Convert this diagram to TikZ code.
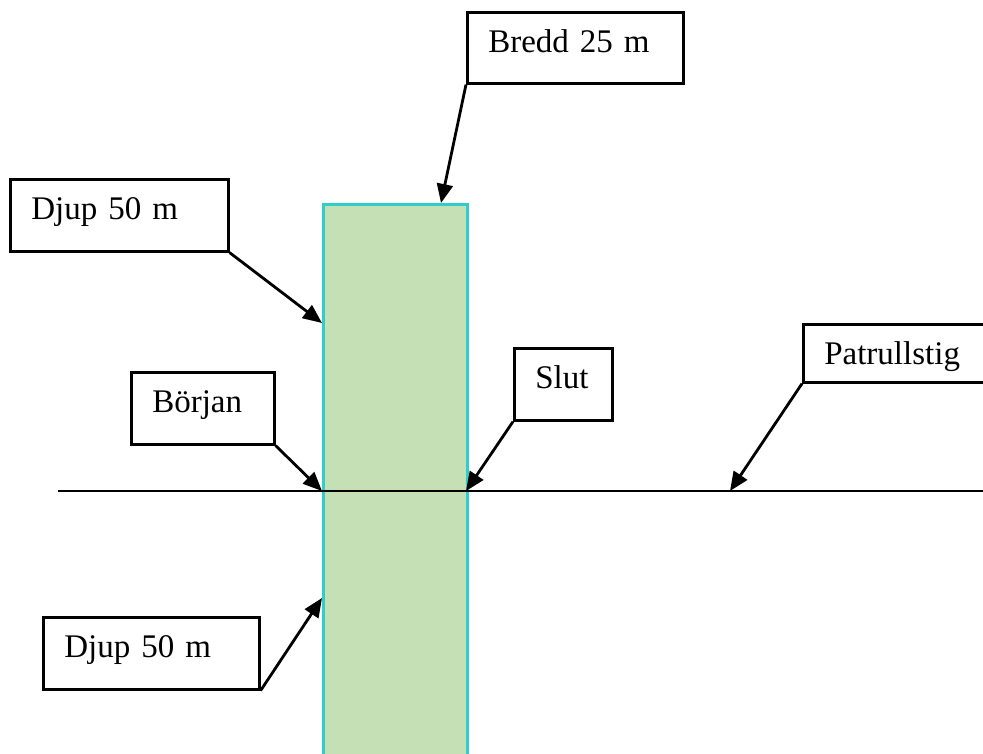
\documentclass[tikz,border=0pt]{standalone}
\usepackage{fontspec}
\setmainfont{Liberation Serif}
\usetikzlibrary{arrows.meta}
\definecolor{fieldgreen}{HTML}{C5E0B4}
\definecolor{fieldedge}{HTML}{33CCCC}
\tikzset{
  tagbox/.style={draw=black, line width=2.6pt, fill=white, anchor=north west,
    inner xsep=21pt, inner ysep=0pt, align=left,
    font=\fontsize{33pt}{38pt}\selectfont, text height=40pt},
  pointer/.style={line width=2.8pt, -{Triangle[length=19pt,width=16pt]}},
}
\begin{document}
\begin{tikzpicture}[x=1pt,y=-1pt]
\useasboundingbox (0,0) rectangle (983,754);
% field
\node[draw=fieldedge, fill=fieldgreen, line width=2.8pt, anchor=north west,
      minimum width=144pt, minimum height=600pt, inner sep=0pt] (field) at (322,203) {};
% path line
\coordinate (pathL) at (58,491);
\coordinate (pathR) at (990,491);
\draw[line width=2.8pt] (pathL) -- (pathR);
% targets
\coordinate (tBredd) at (441,203);
\coordinate (tDjupA) at (322,323);
\coordinate (tBorjan) at (322,491);
\coordinate (tSlut) at (466,491);
\coordinate (tPatrull) at (730,491);
\coordinate (tDjupB) at (322,598);
% label boxes
\node[tagbox, text width=174pt, text depth=31pt] (bredd) at (466,11) {Bredd 25 m};
\node[tagbox, text width=176pt, text depth=32pt] (djupA) at (9,178) {Djup 50 m};
\node[tagbox, text width=101pt, text depth=32pt] (borjan) at (130,371) {Början};
\node[tagbox, text width=56pt, text depth=32pt] (slut) at (513,347) {Slut};
\node[tagbox, text width=200pt, text depth=18pt] (patrull) at (802,323) {Patrullstig};
\node[tagbox, text width=174pt, text depth=32pt] (djupB) at (42,616) {Djup 50 m};
% connectors
\draw[pointer] (bredd.south west) -- (tBredd);
\draw[pointer] (djupA.south east) -- (tDjupA);
\draw[pointer] (borjan.south east) -- (tBorjan);
\draw[pointer] (slut.south west) -- (tSlut);
\draw[pointer] (patrull.south west) -- (tPatrull);
\draw[pointer] (djupB.south east) -- (tDjupB);
\end{tikzpicture}
\end{document}
